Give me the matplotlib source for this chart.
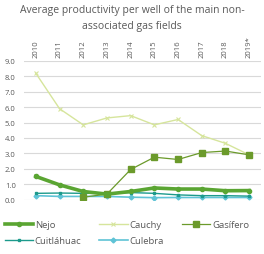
import numpy as np
import matplotlib.pyplot as plt

plt.rcParams['font.family'] = ['Open Sans', 'DejaVu Sans']

years = ['2010', '2011', '2012', '2013', '2014', '2015', '2016', '2017', '2018', '2019*']
nejo = [1.5, 0.95, 0.52, 0.35, 0.52, 0.75, 0.68, 0.68, 0.57, 0.58]
cauchy = [8.2, 5.9, 4.85, 5.3, 5.45, 4.85, 5.2, 4.15, 3.65, 2.9]
gasifero = [np.nan, np.nan, 0.15, 0.35, 1.95, 2.75, 2.6, 3.05, 3.15, 2.9]
cuitlahuac = [0.4, 0.42, 0.4, 0.4, 0.45, 0.4, 0.3, 0.25, 0.25, 0.22]
culebra = [0.25, 0.2, 0.2, 0.2, 0.15, 0.12, 0.13, 0.13, 0.13, 0.13]

text_col = '#595959'
fig = plt.figure(figsize=(2.64, 2.55), dpi=100)
ax = fig.add_axes([24 / 264, 1 - 200.5 / 255, 237 / 264, 138.5 / 255])

x = np.arange(len(years))
h_nejo, = ax.plot(x, nejo, color='#5aa532', lw=2.6, marker='o', ms=3, label='Nejo', zorder=5)
h_cau, = ax.plot(x, cauchy, color='#d6e59c', lw=1, marker='x', ms=3, mew=0.8, label='Cauchy', zorder=3)
h_gas, = ax.plot(x, gasifero, color='#6b9a2b', lw=0.9, marker='s', ms=4, label='Gasífero', zorder=4)
h_cui, = ax.plot(x, cuitlahuac, color='#1c9a8c', lw=1, marker='s', ms=2, label='Cuitláhuac', zorder=3)
h_cul, = ax.plot(x, culebra, color='#5fc3d6', lw=1.2, marker='D', ms=2.5, label='Culebra', zorder=2)

ax.set_xlim(-0.5, len(years) - 0.5)
ax.set_ylim(0, 9)
ax.set_yticks(np.arange(0, 10, 1))
ax.set_yticklabels([f'{v:.1f}' for v in np.arange(0, 10, 1)])
ax.set_xticks(x)
ax.set_xticklabels(years, rotation=90)
ax.xaxis.tick_top()
ax.tick_params(axis='both', length=0, labelsize=5.5, colors=text_col, pad=3)
ax.tick_params(axis='y', pad=6)
ax.grid(axis='y', color='#d9d9d9', lw=0.8)
ax.set_axisbelow(True)
for s in ax.spines.values():
    s.set_visible(False)

fig.text(0.5, 0.927, 'Average productivity per well of the main non-\nassociated gas fields',
         ha='center', va='center', fontsize=7.5, color=text_col, linespacing=1.6)

# column-major fill, so order gives rows: Nejo Cauchy Gasífero / Cuitláhuac Culebra
handles = [h_nejo, h_cui, h_cau, h_cul, h_gas]
fig.legend(handles=handles, labels=[h.get_label() for h in handles],
           loc='lower left', bbox_to_anchor=(-0.015, 0.0), ncol=3, frameon=False,
           fontsize=6.8, labelcolor=text_col, handlelength=3.0, handletextpad=0.2,
           columnspacing=1.9, labelspacing=0.75)

fig.savefig('out.png', dpi=100)
